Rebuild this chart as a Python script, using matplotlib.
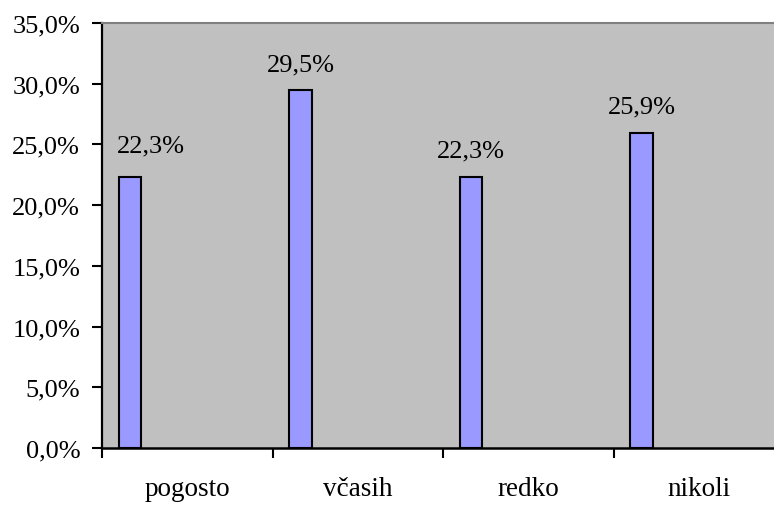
import matplotlib.pyplot as plt
import numpy as np

plt.rcParams['font.family'] = ['Liberation Serif', 'DejaVu Serif']

categories = ['pogosto', 'včasih', 'redko', 'nikoli']
values = [22.3, 29.5, 22.3, 25.9]
y_ticks = [0, 5, 10, 15, 20, 25, 30, 35]

# label nudges (points) to mimic where the original placed them
label_dx = [15, 0, 0, 0]
label_dy = [18.7, 13.7, 15.1, 15.1]

fig = plt.figure(figsize=(7.74, 5.06), dpi=100)
ax = fig.add_axes([0.1318, 0.1126, 0.8682, 0.840])

x = np.arange(len(categories))
bar_x = x - 0.336
ax.bar(bar_x, values, width=0.13, color='#9999FF', edgecolor='black', linewidth=1.5, zorder=3)

for xi, v, dx, dy in zip(bar_x, values, label_dx, label_dy):
    ax.annotate(f'{v:.1f}%'.replace('.', ','), (xi, v), xytext=(dx, dy), textcoords='offset points',
                ha='center', va='baseline', fontsize=19, color='black')

ax.set_facecolor('#C0C0C0')
ax.set_ylim(0, 35)
ax.set_xlim(-0.5, 3.441)

ax.set_yticks(y_ticks)
ax.set_yticklabels([f'{t:.1f}%'.replace('.', ',') for t in y_ticks], fontsize=19)
ax.tick_params(axis='y', direction='out', length=7.2, width=1.5, pad=8.5)

ax.set_xticks(x)
ax.set_xticklabels(categories, fontsize=19.5)
ax.set_xticks(np.arange(len(categories)) - 0.5, minor=True)
ax.tick_params(axis='x', which='major', length=0, pad=20)
ax.tick_params(axis='x', which='minor', direction='out', length=7.2, width=1.5)

ax.spines['right'].set_visible(False)
ax.spines['top'].set_color('#808080')
ax.spines['top'].set_linewidth(1.5)
ax.spines['left'].set_linewidth(1.6)
ax.spines['bottom'].set_linewidth(1.8)

fig.savefig('out.png', dpi=100, facecolor='white')
